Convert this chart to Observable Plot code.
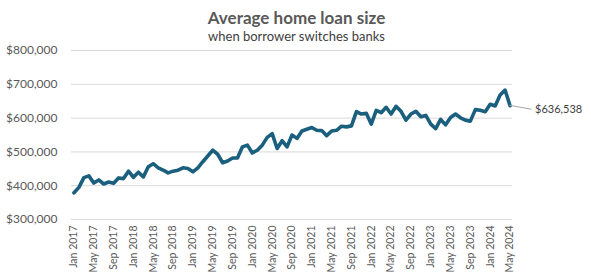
<!DOCTYPE html>
<html>
<head>
<meta charset="utf-8">
<script src="https://cdn.jsdelivr.net/npm/d3@7"></script>
<script src="https://cdn.jsdelivr.net/npm/@observablehq/plot@0.6"></script>
<style>
  html, body { margin: 0; padding: 0; background: #fff; }
  #chart { width: 591px; height: 280px; }
  svg { font-family: Lato, "Noto Sans", sans-serif; }
</style>
</head>
<body>
<div id="chart"></div>
<script>
// Monthly categories Jan 2017 – May 2024
const months = d3.utcMonth.range(new Date(Date.UTC(2017, 0, 1)), new Date(Date.UTC(2024, 5, 1)))
  .map(d3.utcFormat("%b %Y"));

// Average home loan size (AUD)
const loanSize = [
  379000, 395000, 424000, 429000, 408000, 417000, 405000, 411000, 407000, 423000, 421000, 443000,
  425000, 440000, 426000, 456000, 465000, 453000, 446000, 438000, 443000, 446000, 453000, 451000,
  441000, 453000, 471000, 488000, 505000, 493000, 468000, 473000, 482000, 482000, 515000, 520000,
  497000, 505000, 520000, 543000, 554000, 510000, 533000, 515000, 550000, 540000, 562000, 567000,
  572000, 564000, 563000, 548000, 562000, 564000, 576000, 574000, 577000, 619000, 612000, 614000,
  582000, 623000, 616000, 632000, 612000, 635000, 620000, 594000, 612000, 620000, 604000, 608000,
  582000, 569000, 596000, 580000, 602000, 612000, 601000, 594000, 591000, 625000, 623000, 619000,
  641000, 636000, 668000, 683000, 636538
];

const yTicks = [300000, 400000, 500000, 600000, 700000, 800000];
const xTickLabels = months.filter((d, i) => i % 4 === 0);

const title = "Average home loan size";
const subtitle = "when borrower switches banks";

const data = months.map((m, i) => ({month: m, value: loanSize[i]}));
const last = data[data.length - 1];
const fmt = d3.format("$,");
const textColor = "#595959";

const leader = (index, scales) => {
  const x0 = scales.x(last.month), y0 = scales.y(last.value);
  return d3.create("svg:line")
    .attr("x1", x0).attr("y1", y0)
    .attr("x2", x0 + 22).attr("y2", y0 + 4)
    .attr("stroke", "#a6a6a6").attr("stroke-width", 1)
    .node();
};

const chart = Plot.plot({
  width: 591,
  height: 280,
  marginLeft: 71,
  marginRight: 79,
  marginTop: 50,
  marginBottom: 61,
  style: {fontFamily: "Lato, 'Noto Sans', sans-serif", background: "#fff"},
  x: {type: "point", domain: months, padding: 0.5, label: null},
  y: {domain: [300000, 800000], label: null},
  marks: [
    Plot.gridY(yTicks, {stroke: "#d9d9d9", strokeOpacity: 1, strokeWidth: 1}),
    Plot.axisY(yTicks, {tickFormat: fmt, tickSize: 0, tickPadding: 14, fontSize: 12, fill: textColor, label: null}),
    Plot.axisX(xTickLabels, {tickSize: 0, tickPadding: 6, tickRotate: -90, fontSize: 10.5, fill: textColor, label: null}),
    Plot.line(data, {x: "month", y: "value", stroke: "#1b5f7e", strokeWidth: 3.6, strokeLinejoin: "round", strokeLinecap: "round"}),
    leader,
    Plot.text([last], {x: "month", y: "value", text: d => fmt(d.value), dx: 25, dy: 4, textAnchor: "start", fontSize: 11, fill: "#404040"})
  ]
});

const svg = d3.select(chart);
svg.append("text")
  .attr("x", 296.5).attr("y", 23.5)
  .attr("text-anchor", "middle")
  .attr("font-size", 17).attr("font-weight", "bold")
  .attr("fill", textColor)
  .text(title);
svg.append("text")
  .attr("x", 296.5).attr("y", 40.5)
  .attr("text-anchor", "middle")
  .attr("font-size", 13)
  .attr("fill", "#404040")
  .text(subtitle);

document.getElementById("chart").appendChild(chart);
</script>
</body>
</html>
